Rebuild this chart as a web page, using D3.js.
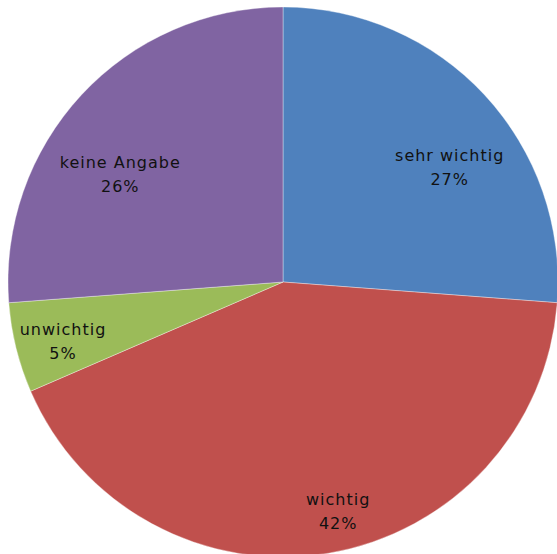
<!DOCTYPE html>
<html><head><meta charset="utf-8">
<script src="https://cdn.jsdelivr.net/npm/d3@7/dist/d3.min.js"></script>
<style>html,body{margin:0;padding:0;background:#fff;}svg{display:block;}</style>
</head><body>
<svg id="chart" width="557" height="554"></svg>
<script>
// Data
const categories = ["sehr wichtig", "wichtig", "unwichtig", "keine Angabe"];
const values = [26.2, 42.3, 5.3, 26.2];
const percentLabels = ["27%", "42%", "5%", "26%"];
const colors = ["#4F81BD", "#C0504D", "#9BBB59", "#8064A2"];

// Layout (label anchor in polar coords: angle deg clockwise from top, radius px)
const labelPolar = [[54.8, 204], [166.3, 233], [255.7, 227], [304.3, 197]];

const svg = d3.select("#chart");
const cx = 283, cy = 282, R = 275;
const g = svg.append("g").attr("transform", `translate(${cx},${cy})`);

const pie = d3.pie().sort(null).value(d => d)(values);
const arc = d3.arc().innerRadius(0).outerRadius(R);

g.selectAll("path.slice").data(pie).enter().append("path")
  .attr("class", "slice")
  .attr("d", arc)
  .attr("fill", (d, i) => colors[i])
  .attr("stroke", "#ffffff")
  .attr("stroke-width", 0.6)
  .attr("stroke-opacity", 0.6);

const lbl = g.selectAll("text.lbl").data(pie).enter().append("text")
  .attr("class", "lbl")
  .attr("text-anchor", "middle")
  .attr("font-family", "DejaVu Sans, sans-serif")
  .attr("font-size", 16)
  .attr("letter-spacing", 1)
  .attr("fill", "#111")
  .attr("transform", (d, i) => {
    const a = labelPolar[i][0] * Math.PI / 180, r = labelPolar[i][1];
    return `translate(${r * Math.sin(a)},${-r * Math.cos(a)})`;
  });
lbl.append("tspan").attr("x", 0).attr("y", -3).text((d, i) => categories[i]);
lbl.append("tspan").attr("x", 0).attr("y", 21).text((d, i) => percentLabels[i]);
</script>
</body></html>
